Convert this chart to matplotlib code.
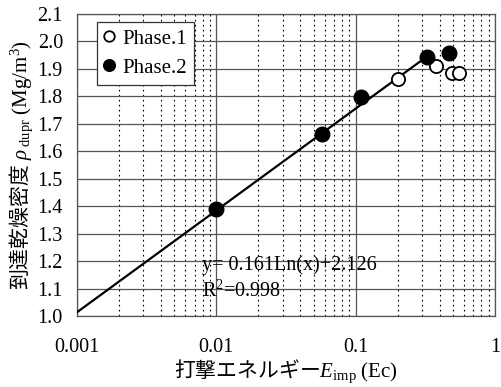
import numpy as np
import matplotlib
matplotlib.use("Agg")
import matplotlib.pyplot as plt
from matplotlib.ticker import LogLocator, FixedLocator, NullFormatter, FixedFormatter

plt.rcParams['font.family'] = ['Liberation Serif', 'Noto Sans CJK JP']
# mathtext: rm -> CJK (for the Japanese part), bf -> plain serif, it -> serif italic
plt.rcParams['mathtext.fontset'] = 'custom'
plt.rcParams['mathtext.rm'] = 'Noto Sans CJK JP'
plt.rcParams['mathtext.bf'] = 'Liberation Serif'
plt.rcParams['mathtext.it'] = 'Liberation Serif:italic'

# data
phase1_x = [0.201, 0.377, 0.492, 0.552]
phase1_y = [1.865, 1.909, 1.884, 1.884]
phase2_x = [0.01, 0.0574, 0.109, 0.326, 0.469]
phase2_y = [1.389, 1.662, 1.796, 1.942, 1.956]
fit_a = 0.161
fit_b = 2.126
fit_range = [0.001, 0.33]
x_ticks = [0.001, 0.01, 0.1, 1]
x_tick_labels = ["0.001", "0.01", "0.1", "1"]

fig = plt.figure(figsize=(5.02, 3.87), dpi=100)
ax = fig.add_axes([0.153, 0.183, 0.833, 0.781])

ax.set_xscale("log")
ax.set_xlim(0.001, 1)
ax.set_ylim(1.0, 2.1)

ax.xaxis.set_major_locator(FixedLocator(x_ticks))
ax.xaxis.set_major_formatter(FixedFormatter(x_tick_labels))
ax.xaxis.set_minor_locator(LogLocator(base=10, subs=np.arange(2, 10)))
ax.xaxis.set_minor_formatter(NullFormatter())
ax.set_yticks(np.round(np.arange(1.0, 2.11, 0.1), 1))
ax.yaxis.set_major_formatter(plt.FormatStrFormatter("%.1f"))

ax.grid(True, which="major", axis="y", color="#555555", lw=0.9)
ax.grid(True, which="major", axis="x", color="#555555", lw=0.9)
ax.grid(True, which="minor", axis="x", color="black", lw=0.8, ls=(0, (1.5, 3)))
ax.tick_params(which="both", length=0)
ax.tick_params(axis="x", pad=16, labelsize=14.5)
ax.tick_params(axis="y", pad=10, labelsize=14.5)
for s in ax.spines.values():
    s.set_color("#555555")
    s.set_linewidth(0.9)
ax.set_axisbelow(True)

xf = np.logspace(np.log10(fit_range[0]), np.log10(fit_range[1]), 200)
ax.plot(xf, fit_a * np.log(xf) + fit_b, color="black", lw=1.6, zorder=3)

ax.plot(phase1_x, phase1_y, ls="none", marker="o", ms=9.5, mfc="white",
        mec="black", mew=1.3, label="Phase.1", zorder=4)
ax.plot(phase2_x, phase2_y, ls="none", marker="o", ms=10.5, mfc="black",
        mec="black", label="Phase.2", zorder=4)

leg = ax.legend(loc="upper left", bbox_to_anchor=(0.048, 0.974), fontsize=15,
                frameon=True, fancybox=False, edgecolor="#333333",
                handlelength=0.5, handletextpad=0.35, borderpad=0.35,
                labelspacing=0.45, markerscale=0.8, framealpha=1,
                borderaxespad=0)
leg.get_frame().set_linewidth(0.9)

ax.text(0.0079, 1.185, "y= 0.161Ln(x)+2.126", fontsize=14.5, va="center")
ax.text(0.0079, 1.09, "R$^{\\mathbf{2}}$=0.998", fontsize=14.5, va="center")

ax.set_xlabel("$\\mathrm{打撃エネルギー}E_{\\mathbf{imp}}\\ \\mathbf{(Ec)}$",
              fontsize=15, labelpad=0)
ax.set_ylabel("$\\mathrm{到達乾燥密度}\\ \\rho_{\\mathbf{\\ dupr}}\\ \\mathbf{(Mg/m^3)}$",
              fontsize=15, labelpad=2)

fig.savefig("out.png", dpi=100)
